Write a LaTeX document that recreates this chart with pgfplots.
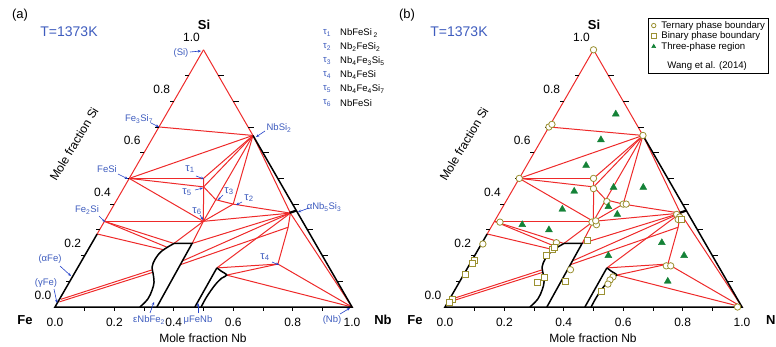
\documentclass[border=0pt]{standalone}
\usepackage{pgfplots}
\pgfplotsset{compat=1.18}
\usepackage{fontspec}
\setmainfont{Liberation Sans}
\usetikzlibrary{arrows.meta}
\definecolor{lred}{RGB}{238,42,42}
\definecolor{tblue}{RGB}{62,92,190}
\definecolor{ablue}{RGB}{35,65,200}
\definecolor{olivec}{RGB}{155,145,50}
\definecolor{tgreen}{RGB}{20,130,55}

\newcommand\xo{55}
\newcommand\lf{\fontsize{9.6}{11.5}\selectfont}
\pgfplotsset{
  /pgfplots/table/tern/.style={row sep=\\, x expr={\xo+297*(\thisrow{n}+0.5*\thisrow{s})}, y expr={307-257.2*\thisrow{s}}},
  rl/.style={lred, line width=1.0pt, forget plot},
  bl/.style={black, line width=1.5pt, forget plot},
  smallleg/.style={legend image code/.code={\draw[mark repeat=2,mark phase=2,mark size=2.2pt,line width=0.6pt] plot coordinates {(0cm,0cm)(0.12cm,0cm)(0.24cm,0cm)};}},
}
\tikzset{
  tk/.style={font=\fontsize{12}{14}\selectfont, inner sep=0pt},
  an/.style={text=tblue, font=\fontsize{9.5}{11}\selectfont, inner sep=0pt},
  tl/.style={text=tblue, font=\fontsize{11}{12}\selectfont, inner sep=0pt},
  ar/.style={ablue, line width=0.6pt, -{Stealth[length=3.2pt,width=2.6pt]}},
}
\newcommand\rseg[4]{\addplot[rl] table[tern]{n s\\ #1 #2\\ #3 #4\\};}
\newcommand\poly[2]{\addplot[#1] table[tern]{n s\\ #2};}

\newcommand\diagram{%
  % edges
  \poly{rl}{0 1\\ 0 0.284\\}
  \poly{rl}{0 1\\ 0.333 0.667\\}
  % red tie lines
  \rseg{0}{0.7}{0.333}{0.667}
  \rseg{0}{0.5}{0.333}{0.667}
  \rseg{0}{0.5}{0.25}{0.5}
  \rseg{0}{0.5}{0.267}{0.467}
  \rseg{0}{0.5}{0.333}{0.333}
  \rseg{0.25}{0.5}{0.333}{0.667}
  \rseg{0.25}{0.5}{0.267}{0.467}
  \rseg{0.267}{0.467}{0.333}{0.667}
  \rseg{0.333}{0.417}{0.333}{0.667}
  \rseg{0.4}{0.4}{0.333}{0.667}
  \rseg{0.267}{0.467}{0.333}{0.333}
  \rseg{0.267}{0.467}{0.333}{0.417}
  \rseg{0.333}{0.417}{0.4}{0.4}
  \rseg{0.333}{0.417}{0.333}{0.333}
  \rseg{0.4}{0.4}{0.333}{0.333}
  \rseg{0}{0.333}{0.333}{0.333}
  \rseg{0.333}{0.667}{0.61}{0.365}
  \rseg{0.4}{0.4}{0.61}{0.365}
  \rseg{0.333}{0.333}{0.61}{0.365}
  \rseg{0}{0.333}{0.277}{0.247}
  \rseg{0}{0.333}{0.262}{0.232}
  \rseg{0}{0.284}{0.257}{0.222}
  \rseg{0.333}{0.333}{0.277}{0.247}
  \rseg{0.333}{0.333}{0.338}{0.247}
  \rseg{0.338}{0.247}{0.61}{0.365}
  \rseg{0.341}{0.18}{0.61}{0.365}
  \rseg{0.341}{0.165}{0.63}{0.31}
  \rseg{0.469}{0.152}{0.61}{0.365}
  \rseg{0.61}{0.365}{0.63}{0.31}
  \rseg{0.63}{0.31}{0.667}{0.167}
  \rseg{0.469}{0.152}{0.667}{0.167}
  \rseg{0.516}{0.124}{0.667}{0.167}
  \rseg{0.516}{0.124}{1}{0}
  \rseg{0.667}{0.167}{1}{0}
  \rseg{0.61}{0.365}{1}{0}
  \rseg{0.005}{0.02}{0.262}{0.135}
  \rseg{0.005}{0.03}{0.256}{0.145}
  % black boundaries
  \poly{bl}{0 0.284\\ 0 0\\ 1 0\\ 0.333 0.667\\}
  \poly{bl,line width=2.2pt}{0.625 0.375\\ 0.607 0.366\\}
  \poly{bl,smooth,tension=0.6}{0.286 0\\ 0.297 0.031\\ 0.294 0.066\\ 0.285 0.097\\ 0.264 0.132\\ 0.249 0.156\\ 0.244 0.187\\ 0.251 0.218\\ 0.277 0.247\\}
  \poly{bl}{0.277 0.247\\ 0.338 0.247\\ 0.343 0\\}
  \poly{bl}{0.471 0\\ 0.469 0.152\\}
  \poly{bl,smooth,tension=0.6}{0.469 0.152\\ 0.489 0.14\\ 0.516 0.124\\ 0.505 0.112\\ 0.496 0.0855\\ 0.491 0.040\\ 0.492 0\\}
  % ticks
  \pgfplotsinvokeforeach{1,...,9}{%
    \draw[black,line width=0.7pt] (axis cs:{\xo+29.7*##1},307) -- (axis cs:{\xo+29.7*##1},311);
    \draw[black,line width=0.7pt] (axis cs:{\xo+14.85*##1},{307-25.72*##1}) -- (axis cs:{\xo+14.85*##1-4},{307-25.72*##1});
    \draw[black,line width=0.7pt] (axis cs:{\xo+297-14.85*##1},{307-25.72*##1}) -- (axis cs:{\xo+297-14.85*##1+6},{307-25.72*##1});
  }
  \pgfplotsinvokeforeach{0.0,0.2,0.4,0.6,0.8,1.0}{%
    \node[tk] at (axis cs:{\xo+297*##1},322) {##1};
    \node[tk] at (axis cs:{\xo+148.5*##1-12},{307-257.2*##1-12}) {##1};
  }
  \node[tk] at (axis cs:{\xo+148},338) {Mole fraction Nb};
  \node[tk,rotate=59] at (axis cs:{\xo+19},144) {Mole fraction Si};
  \node[font=\fontsize{13}{14}\selectfont\bfseries, inner sep=0pt] at (axis cs:{\xo+149},25) {Si};
  \node[font=\fontsize{13}{14}\selectfont\bfseries, inner sep=0pt] at (axis cs:{\xo-30},320) {Fe};
  \node[font=\fontsize{14}{15}\selectfont, text=tblue, inner sep=0pt] at (axis cs:{\xo+14},32) {T=1373K};
}

\begin{document}
\begin{tikzpicture}
\useasboundingbox (0,0) rectangle (776pt,347pt);
\begin{axis}[at={(0pt,0pt)}, anchor=south west, x=1pt, y=1pt,
  xmin=0, xmax=388, ymin=0, ymax=347, y dir=reverse, hide axis, clip=false]
\diagram
\node[font=\fontsize{13}{14}\selectfont, inner sep=0pt] at (axis cs:20,15) {(a)};
\node[font=\fontsize{13}{14}\selectfont\bfseries, inner sep=0pt] at (axis cs:383,320) {Nb};
% tau list
\node[an, anchor=west] at (axis cs:323,33) {τ\textsubscript{1}};
\node[an, anchor=west] at (axis cs:323,47) {τ\textsubscript{2}};
\node[an, anchor=west] at (axis cs:323,61) {τ\textsubscript{3}};
\node[an, anchor=west] at (axis cs:323,75) {τ\textsubscript{4}};
\node[an, anchor=west] at (axis cs:323,89) {τ\textsubscript{5}};
\node[an, anchor=west] at (axis cs:323,103) {τ\textsubscript{6}};
\node[an, text=black, anchor=west] at (axis cs:340,33) {NbFeSi\textsubscript{ 2}};
\node[an, text=black, anchor=west] at (axis cs:340,47) {Nb\textsubscript{2}FeSi\textsubscript{2}};
\node[an, text=black, anchor=west] at (axis cs:340,61) {Nb\textsubscript{4}Fe\textsubscript{3}Si\textsubscript{5}};
\node[an, text=black, anchor=west] at (axis cs:340,75) {Nb\textsubscript{4}FeSi};
\node[an, text=black, anchor=west] at (axis cs:340,89) {Nb\textsubscript{4}Fe\textsubscript{4}Si\textsubscript{7}};
\node[an, text=black, anchor=west] at (axis cs:340,103) {NbFeSi};
% annotations
\node[an] at (axis cs:181,53) {(Si)}; \draw[ar] (axis cs:190,52) -- (axis cs:201,51);
\node[an] at (axis cs:139,119) {Fe\textsubscript{3}Si\textsubscript{7}}; \draw[ar] (axis cs:151,123) -- (axis cs:159,127);
\node[an] at (axis cs:279,128) {NbSi\textsubscript{2}}; \draw[ar] (axis cs:265,131) -- (axis cs:256,137);
\node[an] at (axis cs:107,169) {FeSi}; \draw[ar] (axis cs:118,174) -- (axis cs:128,179);
\node[an] at (axis cs:87,210) {Fe\textsubscript{2}Si}; \draw[ar] (axis cs:99,216) -- (axis cs:105,222);
\node[an] at (axis cs:50,259) {(αFe)}; \draw[ar] (axis cs:60,266) -- (axis cs:71,276);
\node[an] at (axis cs:46,283) {(γFe)}; \draw[ar] (axis cs:54,289) -- (axis cs:57,303);
\node[tl] at (axis cs:190,169) {τ\textsubscript{1}}; \draw[ar] (axis cs:196,176) -- (axis cs:204,179);
\node[tl] at (axis cs:187,192) {τ\textsubscript{5}}; \draw[ar] (axis cs:195,190) -- (axis cs:203,188);
\node[tl] at (axis cs:229,191) {τ\textsubscript{3}}; \draw[ar] (axis cs:223,195) -- (axis cs:218,200);
\node[tl] at (axis cs:249,198) {τ\textsubscript{2}}; \draw[ar] (axis cs:242,202) -- (axis cs:236,205);
\node[tl] at (axis cs:197,211) {τ\textsubscript{6}}; \draw[ar] (axis cs:200,215) -- (axis cs:203,220);
\node[an] at (axis cs:324,207) {αNb\textsubscript{5}Si\textsubscript{3}}; \draw[ar] (axis cs:309,208) -- (axis cs:298,212);
\node[tl] at (axis cs:265,257) {τ\textsubscript{4}}; \draw[ar] (axis cs:272,262) -- (axis cs:279,265);
\node[an] at (axis cs:149,320) {εNbFe\textsubscript{2}}; \draw[ar] (axis cs:150,313) -- (axis cs:154,302);
\node[an] at (axis cs:198,320) {μFeNb}; \draw[ar] (axis cs:198,313) -- (axis cs:198,303);
\node[an] at (axis cs:332,320) {(Nb)}; \draw[ar] (axis cs:340,314) -- (axis cs:350,308);
\end{axis}
\renewcommand\xo{445}
\begin{axis}[at={(388pt,0pt)}, anchor=south west, x=1pt, y=1pt,
  xmin=388, xmax=776, ymin=0, ymax=347, y dir=reverse, hide axis, clip=false,
  legend style={at={(0.6701,0.948)}, anchor=north west, draw=black, line width=0.6pt,
    inner xsep=2pt, inner ysep=2pt, row sep=0pt,
    nodes={inner sep=1pt},
    /tikz/every odd column/.append style={column sep=4.5pt}},
  legend cell align=left]
\diagram
\node[font=\fontsize{13}{14}\selectfont, inner sep=0pt] at (axis cs:407,15) {(b)};
\node[font=\fontsize{13}{14}\selectfont\bfseries, inner sep=0pt, anchor=west] at (axis cs:766,320) {Nb};
\addplot[only marks, smallleg, mark=*, mark size=3.2pt, mark options={fill=white, draw=olivec, line width=0.8pt}] table[tern]{n s\\
0 1\\ 0 0.70\\ 0.005 0.71\\ 0.333 0.667\\ 0 0.50\\ 0.25 0.50\\ 0.27 0.46\\ 0.34 0.41\\ 0.40 0.40\\ 0.41 0.40\\
0.33 0.33\\ 0.35 0.32\\ 0.34 0.335\\ 0.02 0.33\\ 0.005 0.245\\ 0.25 0.25\\ 0.35 0.145\\ 0.60 0.36\\ 0.615 0.35\\
0.615 0.34\\ 0.665 0.16\\ 0.68 0.16\\ 0.507 0.117\\ 0.503 0.105\\ 0.504 0.089\\ 0.985 0\\};
\addlegendentry{\lf Ternary phase boundary}
\addplot[only marks, smallleg, mark=square*, mark size=3pt, mark options={fill=white, draw=olivec, line width=0.8pt}] table[tern]{n s\\
0.35 0.26\\ 0.25 0.225\\ 0.253 0.233\\ 0.242 0.202\\ 0.275 0.117\\ 0.264 0.097\\ 0.357 0.10\\ 0.494 0.062\\
0.624 0.342\\ 0.006 0.183\\ 0.008 0.171\\ 0.006 0.128\\ 0.011 0.031\\ 0.006 0.016\\};
\addlegendentry{\lf Binary phase boundary}
\addplot[only marks, smallleg, mark=triangle*, mark size=4pt, color=tgreen] table[tern]{n s\\
0.20 0.75\\ 0.20 0.65\\ 0.20 0.55\\ 0.21 0.45\\ 0.335 0.465\\ 0.435 0.465\\ 0.355 0.39\\ 0.40 0.36\\ 0.205 0.38\\
0.10 0.32\\ 0.20 0.30\\ 0.605 0.25\\ 0.45 0.20\\ 0.705 0.20\\ 0.70 0.10\\};
\addlegendentry{\lf Three-phase region}
\addlegendimage{empty legend}
\addlegendentry{\lf\rule[-8pt]{0pt}{24pt}\hspace{6pt}Wang et al. (2014)}
\end{axis}
\end{tikzpicture}
\end{document}
